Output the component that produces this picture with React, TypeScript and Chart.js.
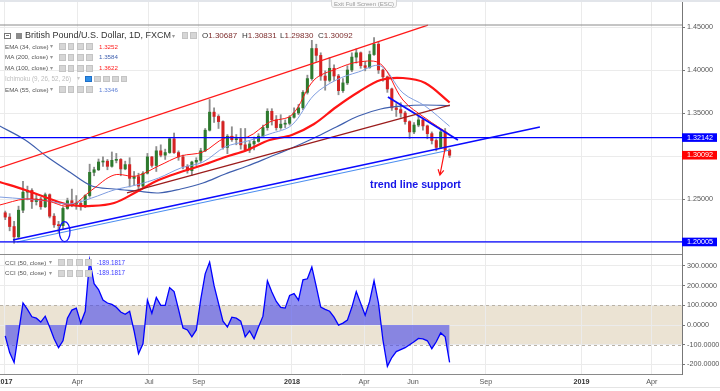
import React, { useEffect, useRef } from 'react';
import { Chart, registerables } from 'chart.js';

Chart.register(...registerables);

const FONT = "'Liberation Sans', Arial, Helvetica, sans-serif";

// ---------- time axis: trading-day index, 0 = 2 Jan 2017 ----------
const X_MIN = -2.7;
const X_MAX = 611.2;
const xTickBars = [1.35, 66.9, 131.4, 176.2, 260.1, 325.1, 369, 434.6, 520.7, 584.1];
const xTickLabels = ['2017', 'Apr', 'Jul', 'Sep', '2018', 'Apr', 'Jun', 'Sep', '2019', 'Apr'];
const yearLabels = ['2017', '2018', '2019'];

// ---------- price axis ----------
const PRICE_MIN = 1.18605;
const PRICE_MAX = 1.4814;
const priceGrid = [1.2, 1.25, 1.3, 1.35, 1.4, 1.45];
const priceLabels = [1.25, 1.35, 1.4, 1.45];

// ---------- candles (one candle per 4 trading days): [open, high, low, close] ----------
const CANDLE_FIRST_BAR = 2;
const CANDLE_STEP = 4;
const candles: [number, number, number, number][] = [
  [1.2340, 1.2360, 1.2260, 1.2290], [1.2290, 1.2330, 1.2130, 1.2180], [1.2180, 1.2240, 1.1986, 1.2060],
  [1.2060, 1.2417, 1.2040, 1.2370], [1.2370, 1.2706, 1.2340, 1.2580], [1.2580, 1.2650, 1.2490, 1.2600],
  [1.2600, 1.2620, 1.2390, 1.2470], [1.2470, 1.2550, 1.2430, 1.2500], [1.2500, 1.2520, 1.2380, 1.2410],
  [1.2410, 1.2570, 1.2400, 1.2550], [1.2550, 1.2560, 1.2280, 1.2300], [1.2300, 1.2330, 1.2170, 1.2200],
  [1.2200, 1.2240, 1.2110, 1.2190], [1.2190, 1.2410, 1.2150, 1.2390], [1.2390, 1.2510, 1.2380, 1.2480],
  [1.2480, 1.2615, 1.2410, 1.2440], [1.2440, 1.2540, 1.2380, 1.2450], [1.2450, 1.2480, 1.2370, 1.2410],
  [1.2410, 1.2550, 1.2400, 1.2540], [1.2540, 1.2905, 1.2520, 1.2810], [1.2810, 1.2870, 1.2770, 1.2840],
  [1.2840, 1.2965, 1.2830, 1.2930], [1.2930, 1.2990, 1.2880, 1.2940], [1.2940, 1.2960, 1.2840, 1.2880],
  [1.2880, 1.3047, 1.2870, 1.2950], [1.2950, 1.3030, 1.2920, 1.2960], [1.2960, 1.2970, 1.2770, 1.2850],
  [1.2850, 1.2940, 1.2840, 1.2900], [1.2900, 1.2980, 1.2640, 1.2740], [1.2740, 1.2820, 1.2660, 1.2760],
  [1.2760, 1.2800, 1.2590, 1.2650], [1.2650, 1.2820, 1.2630, 1.2800], [1.2800, 1.3030, 1.2790, 1.2990],
  [1.2990, 1.2995, 1.2870, 1.2890], [1.2890, 1.3110, 1.2820, 1.3060], [1.3060, 1.3130, 1.2990, 1.3010],
  [1.3010, 1.3080, 1.2960, 1.3040], [1.3040, 1.3210, 1.3030, 1.3200], [1.3200, 1.3267, 1.3030, 1.3040],
  [1.3040, 1.3060, 1.2950, 1.2990], [1.2990, 1.3010, 1.2850, 1.2880], [1.2880, 1.2900, 1.2800, 1.2830],
  [1.2830, 1.2940, 1.2774, 1.2930], [1.2930, 1.2980, 1.2890, 1.2950], [1.2950, 1.3090, 1.2920, 1.3060],
  [1.3060, 1.3320, 1.3050, 1.3300], [1.3300, 1.3657, 1.3290, 1.3510], [1.3510, 1.3560, 1.3390, 1.3460],
  [1.3460, 1.3480, 1.3320, 1.3400], [1.3400, 1.3410, 1.3080, 1.3100], [1.3100, 1.3250, 1.3027, 1.3230],
  [1.3230, 1.3340, 1.3170, 1.3190], [1.3190, 1.3250, 1.3130, 1.3200], [1.3200, 1.3320, 1.3080, 1.3130],
  [1.3130, 1.3320, 1.3060, 1.3070], [1.3070, 1.3170, 1.3040, 1.3140], [1.3140, 1.3220, 1.3070, 1.3170],
  [1.3170, 1.3260, 1.3160, 1.3230], [1.3230, 1.3360, 1.3230, 1.3330], [1.3330, 1.3550, 1.3300, 1.3520],
  [1.3520, 1.3550, 1.3360, 1.3420], [1.3420, 1.3470, 1.3300, 1.3330], [1.3330, 1.3480, 1.3310, 1.3370],
  [1.3370, 1.3420, 1.3330, 1.3380], [1.3380, 1.3470, 1.3360, 1.3450], [1.3450, 1.3560, 1.3440, 1.3500],
  [1.3500, 1.3600, 1.3480, 1.3560], [1.3560, 1.3760, 1.3540, 1.3740], [1.3740, 1.3940, 1.3720, 1.3900],
  [1.3900, 1.4345, 1.3880, 1.4250], [1.4250, 1.4300, 1.4100, 1.4170], [1.4170, 1.4200, 1.3880, 1.3930],
  [1.3930, 1.3990, 1.3765, 1.3880], [1.3880, 1.4145, 1.3860, 1.4020], [1.4020, 1.4060, 1.3880, 1.3930],
  [1.3930, 1.3950, 1.3712, 1.3760], [1.3760, 1.3900, 1.3740, 1.3850], [1.3850, 1.4050, 1.3830, 1.4000],
  [1.4000, 1.4200, 1.3980, 1.4150], [1.4150, 1.4245, 1.4080, 1.4200], [1.4200, 1.4210, 1.4020, 1.4050],
  [1.4050, 1.4100, 1.3990, 1.4030], [1.4030, 1.4220, 1.4020, 1.4180], [1.4180, 1.4377, 1.4170, 1.4300],
  [1.4300, 1.4330, 1.3960, 1.4000], [1.4000, 1.4010, 1.3870, 1.3920], [1.3920, 1.3930, 1.3740, 1.3780],
  [1.3780, 1.3790, 1.3530, 1.3560], [1.3560, 1.3610, 1.3460, 1.3540], [1.3540, 1.3620, 1.3450, 1.3500],
  [1.3500, 1.3520, 1.3370, 1.3400], [1.3400, 1.3410, 1.3205, 1.3280], [1.3280, 1.3390, 1.3260, 1.3360],
  [1.3360, 1.3470, 1.3340, 1.3420], [1.3420, 1.3440, 1.3300, 1.3350], [1.3350, 1.3360, 1.3200, 1.3260],
  [1.3260, 1.3280, 1.3140, 1.3180], [1.3180, 1.3200, 1.3060, 1.3100], [1.3100, 1.3300, 1.3090, 1.3280],
  [1.3280, 1.3320, 1.3065, 1.3069], [1.30687, 1.30831, 1.29830, 1.30092],
];

// ---------- moving averages (read every 20 trading days) ----------
const maBars = [-3, 20, 40, 60, 80, 100, 120, 140, 160, 180, 200, 220, 240, 260, 280, 300, 320, 340, 360, 380, 402];
const ema34 = [1.2430, 1.2500, 1.2477, 1.2419, 1.2605, 1.2779, 1.2767, 1.2884, 1.3000, 1.3047, 1.3210, 1.3221, 1.3395, 1.3477, 1.3884, 1.4012, 1.4093, 1.4070, 1.3651, 1.3442, 1.3252];
const ma200 = [1.3349, 1.3186, 1.2988, 1.2814, 1.2651, 1.2616, 1.2593, 1.2570, 1.2616, 1.2686, 1.2791, 1.2884, 1.2988, 1.3093, 1.3209, 1.3337, 1.3465, 1.3547, 1.3581, 1.3593, 1.3584];
const ma100 = [1.2698, 1.2605, 1.2512, 1.2430, 1.2419, 1.2453, 1.2581, 1.2721, 1.2814, 1.2895, 1.2988, 1.3070, 1.3186, 1.3244, 1.3372, 1.3570, 1.3744, 1.3884, 1.3907, 1.3849, 1.3622];
const ema55 = [1.2523, 1.2500, 1.2477, 1.2442, 1.2512, 1.2605, 1.2663, 1.2744, 1.2860, 1.2930, 1.3105, 1.3174, 1.3256, 1.3360, 1.3709, 1.3884, 1.3977, 1.4047, 1.3733, 1.3581, 1.3346];

// ---------- CCI(50), one value per candle ----------
const cci = [
  -55, -140, -190, -40, 112, 80, 42, 35, 15, 45,
  -10, -70, -115, -80, 35, 76, 86, 10, 70, 330,
  210, 180, 127, 112, 105, 90, 66, 55, 70, -30,
  -145, -95, 127, 60, 140, 100, 100, 190, 170, 80,
  -15, -25, -60, -25, 130, 260, 320, 200, 110, 20,
  -10, 40, 35, 20, -60, -30, -70, -10, 45, 225,
  168, 120, 90, 86, 150, 160, 127, 230, 235, 295,
  195, 91, 80, 70, 40, 0, 10, 25, 90, 170,
  110, 50, 120, 225, 112, -76, -210, -165, -135, -125,
  -115, -100, -85, -68, -70, -80, -120, -85, -40, -60,
  -189.1817,
];
const CCI_MIN = -248.7;
const CCI_MAX = 360.9;
const cciGrid = [-200, -100, 0, 100, 200, 300];
const cciBandLimits = [100, -100];

// ---------- drawings: [bar, price] end points ----------
const upperChannel = { bars: [-2.7, 382.5], prices: [1.2864, 1.4523] };
const lowerChannel = { bars: [111.6, 402.3], prices: [1.2570, 1.3593] };
const supportLineA = { bars: [9, 483.3], prices: [1.2023, 1.3337] };
const supportLineB = { bars: [12.6, 402.3], prices: [1.2000, 1.3070] };
const resistanceLine = { bars: [346.5, 409.5], prices: [1.3686, 1.3186] };
const levels = [1.32142, 1.20005];
const topLevel = 1.45233;
const lastClose = 1.30092;
const ellipseMark = { bar: 55.5, price: 1.2120, barRadius: 4.8, priceRadius: 0.01163 };
const arrowMark = { bars: [397.8, 393.3], prices: [1.3077, 1.2779] };
const noteMark = { bar: 371.3, price: 1.2663, text: 'trend line support' };

const UP = '#2e7a2e';
const DOWN = '#d42323';
const WICK = '#8e8e8e';
const GRID = '#ebebeb';

const candleBar = (i: number) => CANDLE_FIRST_BAR + i * CANDLE_STEP;
const seg = (s: { bars: number[]; prices: number[] }) => s.bars.map((b, i) => ({ x: b, y: s.prices[i] }));
const lineDs = (data: any[], color: string, width: number, order: number, tension = 0) => ({
  type: 'line' as const,
  data,
  borderColor: color,
  borderWidth: width,
  pointRadius: 0,
  pointHoverRadius: 0,
  fill: false,
  tension,
  order,
});

const mainPlugin = {
  id: 'mainDrawings',
  afterDatasetsDraw(chart: any) {
    const { ctx, scales } = chart;
    const x = scales.x;
    const y = scales.y;
    ctx.save();
    const cx = x.getPixelForValue(ellipseMark.bar);
    const cy = y.getPixelForValue(ellipseMark.price);
    const rx = Math.abs(x.getPixelForValue(ellipseMark.bar + ellipseMark.barRadius) - cx);
    const ry = Math.abs(y.getPixelForValue(ellipseMark.price + ellipseMark.priceRadius) - cy);
    ctx.beginPath();
    ctx.ellipse(cx, cy, rx, ry, 0, 0, Math.PI * 2);
    ctx.strokeStyle = '#1010ff';
    ctx.lineWidth = 1.2;
    ctx.stroke();
    const x1 = x.getPixelForValue(arrowMark.bars[0]);
    const y1 = y.getPixelForValue(arrowMark.prices[0]);
    const x2 = x.getPixelForValue(arrowMark.bars[1]);
    const y2 = y.getPixelForValue(arrowMark.prices[1]);
    ctx.strokeStyle = '#ff1010';
    ctx.lineWidth = 1.2;
    ctx.beginPath();
    ctx.moveTo(x1, y1);
    ctx.lineTo(x2, y2);
    const ang = Math.atan2(y2 - y1, x2 - x1);
    const head = 6;
    ctx.moveTo(x2 - head * Math.cos(ang - 0.5), y2 - head * Math.sin(ang - 0.5));
    ctx.lineTo(x2, y2);
    ctx.lineTo(x2 - head * Math.cos(ang + 0.5), y2 - head * Math.sin(ang + 0.5));
    ctx.stroke();
    ctx.font = `bold 10.7px ${FONT}`;
    ctx.fillStyle = '#1414e8';
    ctx.textAlign = 'center';
    ctx.textBaseline = 'middle';
    ctx.fillText(noteMark.text, x.getPixelForValue(noteMark.bar), y.getPixelForValue(noteMark.price));
    ctx.restore();
  },
  afterDraw(chart: any) {
    const { ctx, scales, chartArea } = chart;
    const y = scales.y;
    const boxes = [
      { v: levels[0], c: '#0000ff' },
      { v: lastClose, c: '#ff0000' },
      { v: levels[1], c: '#0000ff' },
    ];
    ctx.save();
    boxes.forEach((b) => {
      const py = y.getPixelForValue(b.v);
      ctx.fillStyle = b.c;
      ctx.fillRect(chartArea.right, py - 4.3, 35, 8.6);
      ctx.fillStyle = '#ffffff';
      ctx.font = `7.2px ${FONT}`;
      ctx.textAlign = 'left';
      ctx.textBaseline = 'middle';
      ctx.fillText(b.v.toFixed(5), chartArea.right + 5, py + 0.3);
    });
    ctx.restore();
  },
};

const cciPlugin = {
  id: 'cciBand',
  beforeDraw(chart: any) {
    const { ctx, scales, chartArea } = chart;
    const y = scales.y;
    const top = y.getPixelForValue(cciBandLimits[0]);
    const bottom = y.getPixelForValue(cciBandLimits[1]);
    ctx.save();
    ctx.fillStyle = '#ebe3d3';
    ctx.fillRect(chartArea.left, top, chartArea.right - chartArea.left, bottom - top);
    ctx.restore();
  },
  beforeDatasetsDraw(chart: any) {
    const { ctx, scales, chartArea } = chart;
    const y = scales.y;
    ctx.save();
    ctx.strokeStyle = '#b9b2a6';
    ctx.lineWidth = 1;
    ctx.setLineDash([3, 3]);
    cciBandLimits.forEach((v) => {
      const py = Math.round(y.getPixelForValue(v)) + 0.5;
      ctx.beginPath();
      ctx.moveTo(chartArea.left, py);
      ctx.lineTo(chartArea.right, py);
      ctx.stroke();
    });
    ctx.restore();
  },
  afterDraw(chart: any) {
    const { ctx, chartArea } = chart;
    ctx.save();
    ctx.strokeStyle = '#8a8a8a';
    ctx.lineWidth = 1;
    ctx.beginPath();
    ctx.moveTo(0, 0.5);
    ctx.lineTo(chartArea.right, 0.5);
    ctx.stroke();
    ctx.restore();
  },
};

function mainConfig(): any {
  const wickData = candles.map((c, i) => ({ x: candleBar(i), y: [c[2], c[1]] }));
  const bodyData = candles.map((c, i) => ({ x: candleBar(i), y: [c[0], c[3]] }));
  const bodyColors = candles.map((c) => (c[3] >= c[0] ? UP : DOWN));
  const maData = (vals: number[]) => maBars.map((b, i) => ({ x: b, y: vals[i] }));
  const hLine = (p: number) => [{ x: X_MIN, y: p }, { x: X_MAX, y: p }];
  return {
    type: 'bar',
    data: {
      datasets: [
        lineDs(hLine(levels[0]), '#0000ff', 1.3, 1),
        lineDs(hLine(levels[1]), '#0000ff', 1.3, 1),
        lineDs(hLine(topLevel), '#8a8a8a', 1, 1),
        lineDs(seg(upperChannel), '#ff1a1a', 1.3, 2),
        lineDs(seg(lowerChannel), '#9b1c1c', 1.3, 2),
        lineDs(seg(supportLineB), '#4d8ff0', 1.1, 2),
        lineDs(seg(supportLineA), '#0a0aff', 1.6, 2),
        lineDs(seg(resistanceLine), '#0a0aff', 1.8, 2),
        lineDs(maData(ema34), '#ff1515', 1, 10, 0.35),
        lineDs(maData(ema55), '#7f9de0', 1, 10, 0.35),
        lineDs(maData(ma100), '#ff1515', 2.2, 11, 0.35),
        lineDs(maData(ma200), '#3f5fae', 1.2, 11, 0.35),
        {
          type: 'bar',
          data: bodyData,
          backgroundColor: bodyColors,
          borderWidth: 0,
          barThickness: 2.4,
          minBarLength: 1,
          grouped: false,
          order: 20,
        },
        {
          type: 'bar',
          data: wickData,
          backgroundColor: WICK,
          borderWidth: 0,
          barThickness: 1.2,
          grouped: false,
          order: 21,
        },
      ],
    },
    options: {
      responsive: false,
      maintainAspectRatio: false,
      animation: false,
      events: [],
      layout: { padding: 0 },
      plugins: { legend: { display: false }, tooltip: { enabled: false } },
      scales: {
        x: {
          type: 'linear',
          min: X_MIN,
          max: X_MAX,
          offset: false,
          grid: { color: GRID, drawTicks: false, offset: false },
          border: { display: false },
          ticks: { display: false },
          afterBuildTicks: (s: any) => {
            s.ticks = xTickBars.map((v) => ({ value: v }));
          },
          afterFit: (s: any) => {
            s.height = 0;
            s.paddingLeft = 0;
            s.paddingRight = 0;
          },
        },
        y: {
          type: 'linear',
          position: 'right',
          min: PRICE_MIN,
          max: PRICE_MAX,
          grid: { color: GRID, tickLength: 3, tickColor: '#777' },
          border: { display: true, color: '#777' },
          ticks: {
            font: { family: FONT, size: 7.2 },
            color: '#555',
            padding: 2,
            callback: (v: any) => (priceLabels.some((p) => Math.abs(p - v) < 1e-6) ? Number(v).toFixed(5) : ''),
          },
          afterBuildTicks: (s: any) => {
            s.ticks = priceGrid.map((v) => ({ value: v }));
          },
          afterFit: (s: any) => {
            s.width = 38;
            s.paddingTop = 0;
            s.paddingBottom = 0;
          },
        },
      },
    },
    plugins: [mainPlugin],
  };
}

function cciConfig(): any {
  return {
    type: 'line',
    data: {
      datasets: [
        {
          data: cci.map((v, i) => ({ x: candleBar(i), y: v })),
          borderColor: '#0000ff',
          borderWidth: 1.3,
          pointRadius: 0,
          pointHoverRadius: 0,
          tension: 0,
          fill: { target: { value: 0 }, above: 'rgba(70,70,235,0.6)', below: 'rgba(70,70,235,0.6)' },
        },
      ],
    },
    options: {
      responsive: false,
      maintainAspectRatio: false,
      animation: false,
      events: [],
      layout: { padding: 0 },
      plugins: { legend: { display: false }, tooltip: { enabled: false } },
      scales: {
        x: {
          type: 'linear',
          min: X_MIN,
          max: X_MAX,
          offset: false,
          grid: { color: GRID, drawTicks: false },
          border: { display: true, color: '#8a8a8a' },
          ticks: {
            autoSkip: false,
            maxRotation: 0,
            minRotation: 0,
            padding: 4,
            font: (ctx: any) => ({
              family: FONT,
              size: 7.2,
              weight: ctx.tick && yearLabels.includes(ctx.tick.label) ? 'bold' : 'normal',
            }),
            color: (ctx: any) => (ctx.tick && yearLabels.includes(ctx.tick.label) ? '#333' : '#555'),
            callback: (_v: any, i: number) => xTickLabels[i],
          },
          afterBuildTicks: (s: any) => {
            s.ticks = xTickBars.map((v) => ({ value: v }));
          },
          afterFit: (s: any) => {
            s.height = 17;
            s.paddingLeft = 0;
            s.paddingRight = 0;
          },
        },
        y: {
          type: 'linear',
          position: 'right',
          min: CCI_MIN,
          max: CCI_MAX,
          grid: { color: GRID, tickLength: 3, tickColor: '#777' },
          border: { display: true, color: '#777' },
          ticks: {
            font: { family: FONT, size: 7.2 },
            color: '#555',
            padding: 2,
            callback: (v: any) => Number(v).toFixed(4),
          },
          afterBuildTicks: (s: any) => {
            s.ticks = cciGrid.map((v) => ({ value: v }));
          },
          afterFit: (s: any) => {
            s.width = 38;
            s.paddingTop = 0;
            s.paddingBottom = 0;
          },
        },
      },
    },
    plugins: [cciPlugin],
  };
}

const Txt = ({ x, y, size, color, bold, children }: any) => (
  <span
    style={{
      position: 'absolute',
      left: x,
      top: y - size * 0.5,
      fontSize: size,
      lineHeight: `${size}px`,
      color,
      fontWeight: bold ? 'bold' : 'normal',
      whiteSpace: 'nowrap',
    }}
  >
    {children}
  </span>
);

const Icon = ({ x, y, blue }: any) => (
  <span
    style={{
      position: 'absolute',
      left: x,
      top: y - 3.3,
      width: 6.6,
      height: 6.6,
      boxSizing: 'border-box',
      background: blue ? '#2f8fe8' : '#d6d6d6',
      border: `1px solid ${blue ? '#1f6fc8' : '#c4c4c4'}`,
    }}
  />
);

const indicatorRows = [
  { name: 'EMA (34, close)', value: '1.3252', color: '#ff1a1a', y: 46.7 },
  { name: 'MA (200, close)', value: '1.3584', color: '#3f5fae', y: 57.3 },
  { name: 'MA (100, close)', value: '1.3622', color: '#ff1a1a', y: 68.3 },
  { name: 'EMA (55, close)', value: '1.3346', color: '#5d7fd5', y: 89.7 },
];
const ohlc = [
  { k: 'O', v: '1.30687', x: 202 },
  { k: 'H', v: '1.30831', x: 242 },
  { k: 'L', v: '1.29830', x: 280 },
  { k: 'C', v: '1.30092', x: 318 },
];

export default function App() {
  const mainRef = useRef<HTMLCanvasElement>(null);
  const cciRef = useRef<HTMLCanvasElement>(null);

  useEffect(() => {
    const main = new Chart(mainRef.current as HTMLCanvasElement, mainConfig());
    const lower = new Chart(cciRef.current as HTMLCanvasElement, cciConfig());
    return () => {
      main.destroy();
      lower.destroy();
    };
  }, []);

  const iconXs = [59.3, 67.7, 77.3, 86];
  const cciIconXs = [58.3, 66.7, 76, 85.3];

  return (
    <div
      style={{
        position: 'fixed',
        left: 0,
        top: 0,
        width: 720,
        height: 391,
        background: '#ffffff',
        overflow: 'hidden',
        fontFamily: FONT,
      }}
    >
      <canvas ref={mainRef} width={720} height={254} style={{ position: 'absolute', left: 0, top: 0, width: 720, height: 254 }} />
      <canvas ref={cciRef} width={720} height={137} style={{ position: 'absolute', left: 0, top: 254, width: 720, height: 137 }} />

      <div style={{ position: 'absolute', left: 0, top: 0, width: 720, height: 2, background: '#e2e5ea' }} />
      <div
        style={{
          position: 'absolute',
          left: 331,
          top: -2,
          width: 66,
          height: 10,
          boxSizing: 'border-box',
          border: '1px solid #d4d4d4',
          borderRadius: '0 0 3px 3px',
          background: '#f8f8f8',
          color: '#9a9a9a',
          fontSize: 6,
          lineHeight: '10px',
          textAlign: 'center',
          whiteSpace: 'nowrap',
        }}
      >
        Exit Full Screen (ESC)
      </div>

      <span
        style={{
          position: 'absolute',
          left: 4,
          top: 32.5,
          width: 6.5,
          height: 6.5,
          boxSizing: 'border-box',
          border: '1px solid #777',
        }}
      >
        <span style={{ position: 'absolute', left: 1, top: 1.75, width: 2.5, height: 1, background: '#777' }} />
      </span>
      <span style={{ position: 'absolute', left: 16, top: 32.5, width: 6, height: 6.5, background: '#8c8c8c' }} />
      <Txt x={25} y={35.7} size={9} color="#333">
        British Pound/U.S. Dollar, 1D, FXCM
      </Txt>
      <Txt x={172} y={35.7} size={6} color="#999">
        ▾
      </Txt>
      <Icon x={181.7} y={35.7} />
      <Icon x={190} y={35.7} />
      {ohlc.map((o) => (
        <Txt key={o.k} x={o.x} y={35.7} size={8} color="#333">
          {o.k}
          <span style={{ color: '#7d2c2c' }}>{o.v}</span>
        </Txt>
      ))}

      {indicatorRows.map((r) => (
        <React.Fragment key={r.name}>
          <Txt x={5} y={r.y} size={6.2} color="#555">
            {r.name}
          </Txt>
          <Txt x={50} y={r.y} size={5.5} color="#999">
            ▾
          </Txt>
          {iconXs.map((ix) => (
            <Icon key={ix} x={ix} y={r.y} />
          ))}
          <Txt x={99} y={r.y} size={6.2} color={r.color}>
            {r.value}
          </Txt>
        </React.Fragment>
      ))}
      <Txt x={5} y={79} size={6.3} color="#bdbdbd">
        Ichimoku (9, 26, 52, 26)
      </Txt>
      <Txt x={77} y={79} size={5.5} color="#c8c8c8">
        ▾
      </Txt>
      {[85, 94.3, 103.3, 112.3, 120.7].map((ix, i) => (
        <Icon key={ix} x={ix} y={79} blue={i === 0} />
      ))}

      {[262.7, 273.3].map((ry) => (
        <React.Fragment key={ry}>
          <Txt x={5} y={ry} size={6.2} color="#555">
            CCI (50, close)
          </Txt>
          <Txt x={49} y={ry} size={5.5} color="#999">
            ▾
          </Txt>
          {cciIconXs.map((ix) => (
            <Icon key={ix} x={ix} y={ry} />
          ))}
          <Txt x={96.7} y={ry} size={6.3} color="#3a3aff">
            -189.1817
          </Txt>
        </React.Fragment>
      ))}

      <div style={{ position: 'absolute', left: 0, top: 387, width: 720, height: 1, background: '#e4e4e4' }} />
    </div>
  );
}
